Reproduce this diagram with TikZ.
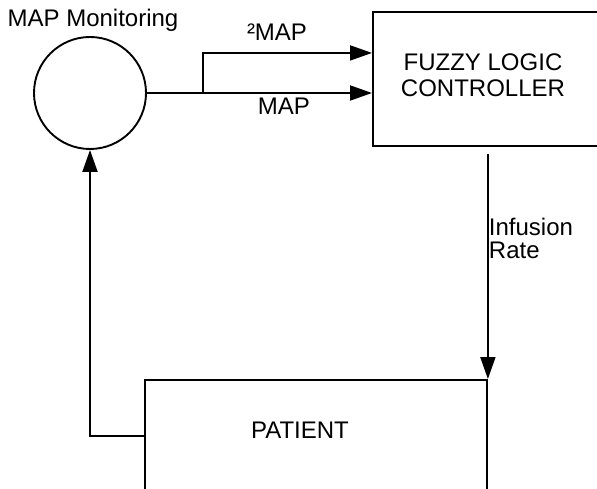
\documentclass[tikz,border=0pt]{standalone}
\usepackage{fontspec}
\setmainfont{Liberation Sans}
\usetikzlibrary{arrows.meta,positioning}

\tikzset{
  blk/.style={draw, rectangle, inner sep=0pt},
  lbl/.style={font=\fontsize{24}{26}\selectfont, inner sep=0pt},
  arr/.style={-{Triangle[length=22pt,width=15pt]}},
}

\begin{document}
\begin{tikzpicture}[x=1pt,y=-1pt,line width=1.9pt]
   \useasboundingbox (0,0) rectangle (597,489);
   \clip (0,0) rectangle (597,489);
   % blocks
   \node[draw, circle, minimum size=112pt, inner sep=0pt] (mon) at (90,93) {};
   \node[blk, anchor=north west, minimum width=268pt, minimum height=134pt] (flc) at (372,11) {};
   \node[blk, anchor=north west, minimum width=342pt, minimum height=140pt] (pat) at (144,379) {};
   % texts
   \node[lbl] (montext) at (93,20) {MAP Monitoring};
   \node[lbl, align=center] (flctext) at (483,75) {FUZZY LOGIC\\CONTROLLER};
   \node[lbl] (pattext) at (300,430) {PATIENT};
   % monitor to controller
   \coordinate (split) at ([xshift=56pt]mon.east);
   \draw[arr] (mon.east) -- (mon.east -| flc.west);
   \draw[arr] (split) |- ([yshift=26pt]flc.west);
   \node[lbl] (sqlbl) at (277,32) {²MAP};
   \node[lbl] (maplbl) at (284,106) {MAP};
   % controller to patient
   \coordinate (irtop) at ([yshift=-7pt]flc.south -| pat.north east);
   \draw[arr] (irtop) -- (pat.north east);
   \node[lbl, align=left, anchor=west, font=\fontsize{24}{23}\selectfont] (irlbl) at (488,238) {Infusion\\Rate};
   % feedback
   \coordinate (fbout) at ([yshift=-57pt]pat.north west);
   \draw[arr] (fbout) -| (mon.south);
\end{tikzpicture}
\end{document}
